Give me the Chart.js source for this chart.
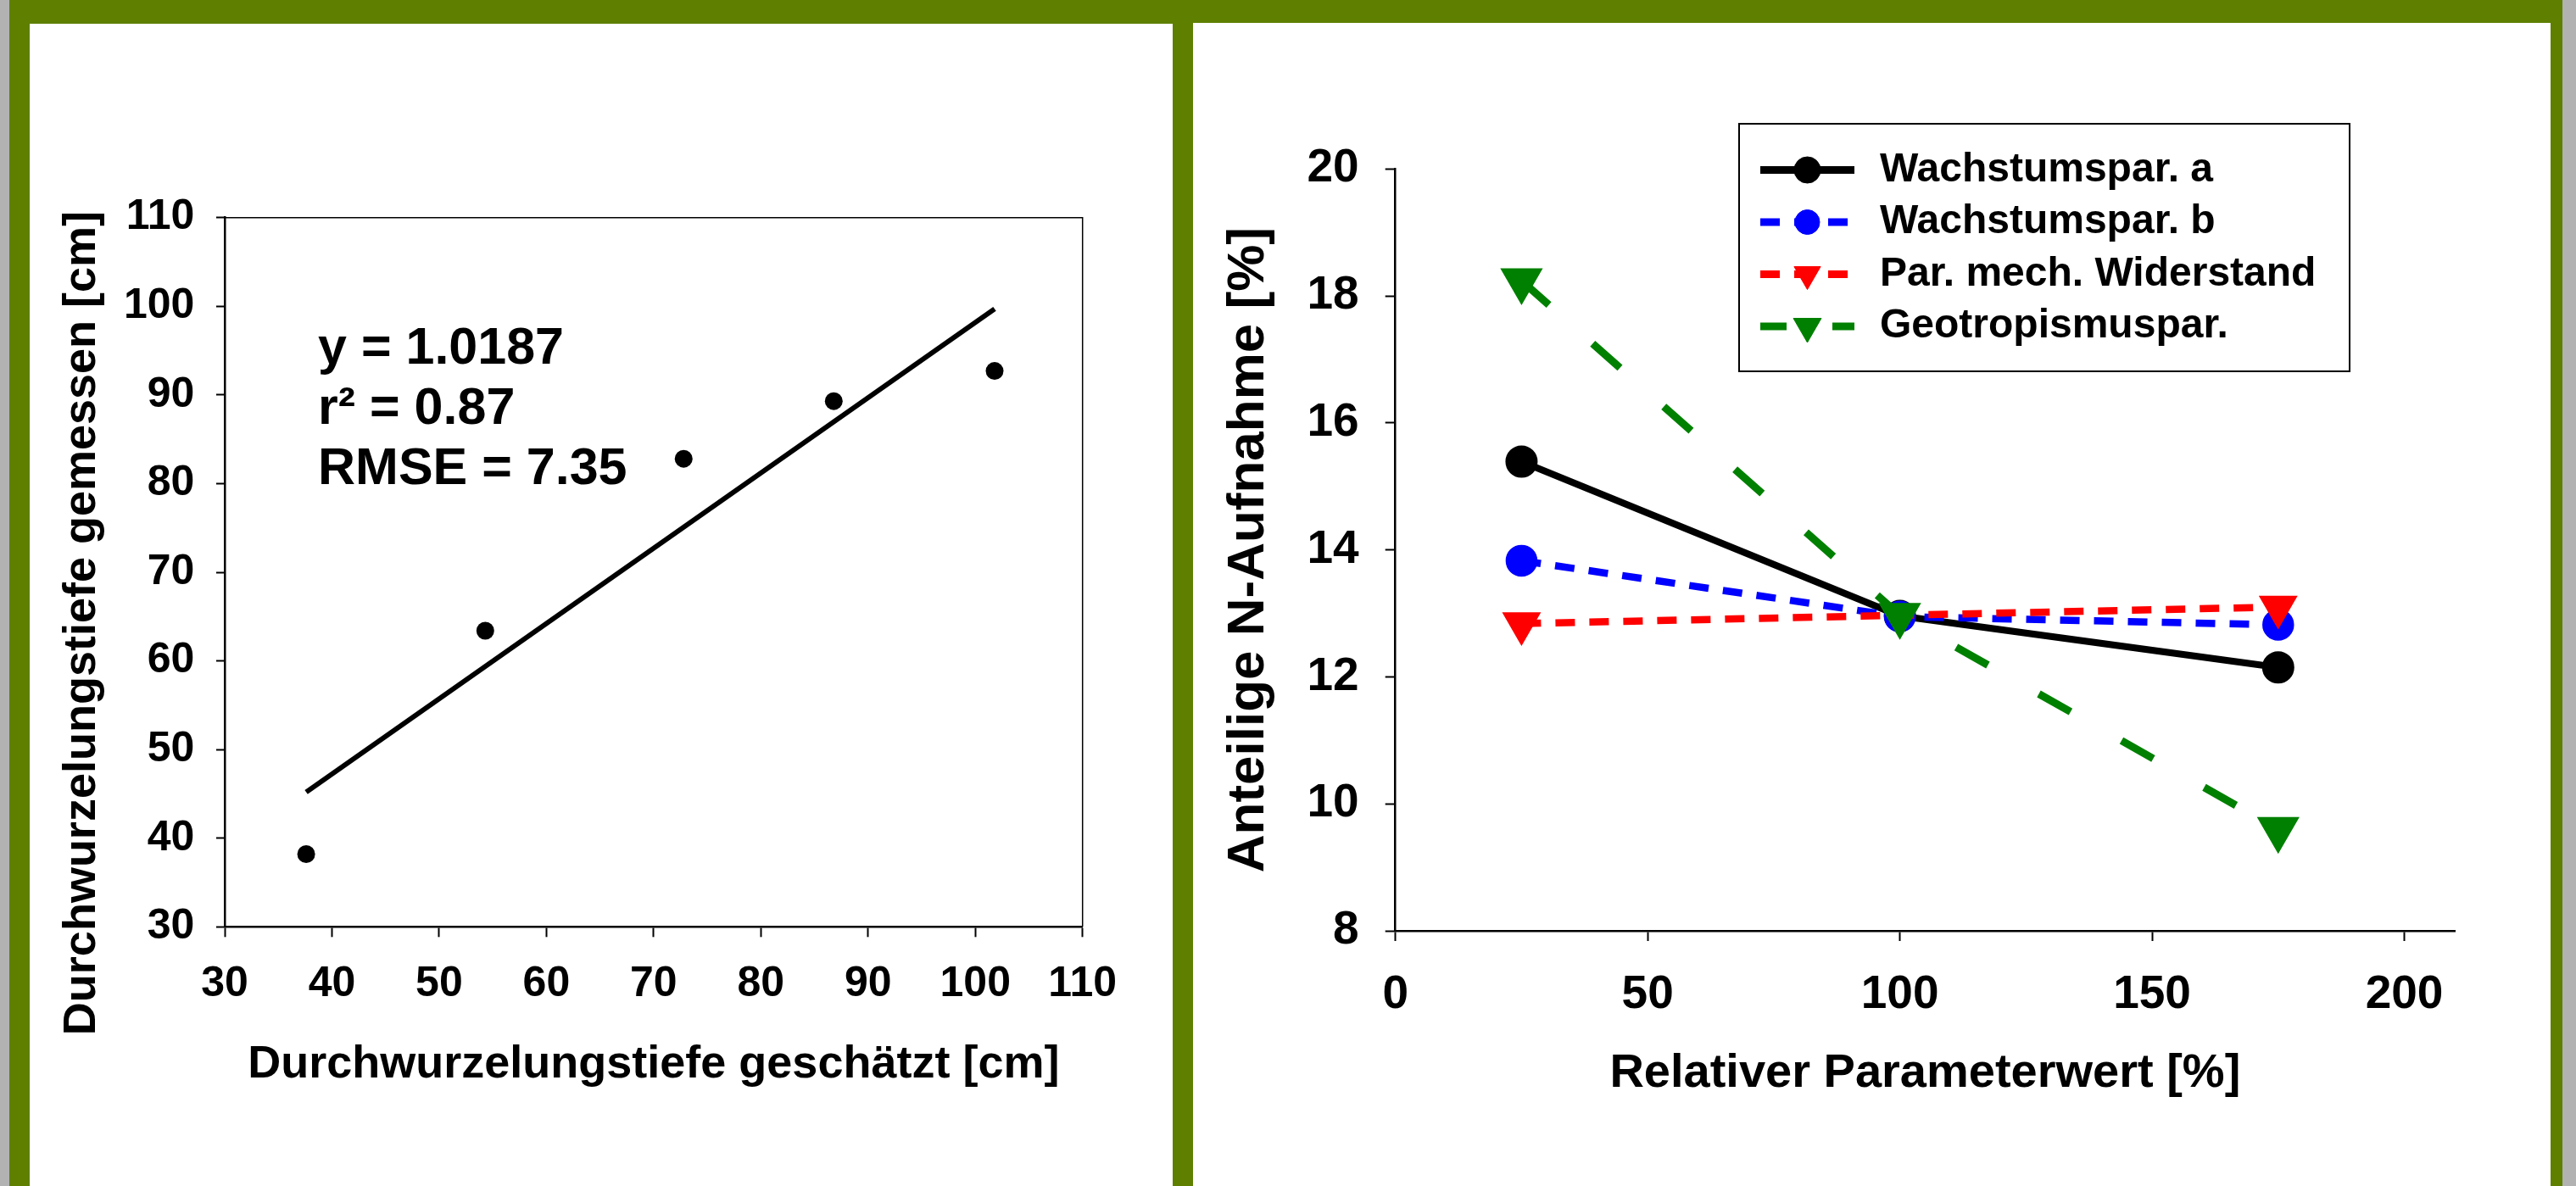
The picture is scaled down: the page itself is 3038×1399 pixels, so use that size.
<!DOCTYPE html>
<html lang="de">
<head>
<meta charset="utf-8">
<title>Durchwurzelungstiefe und N-Aufnahme</title>
<script src="https://cdn.jsdelivr.net/npm/chart.js@4.4.1/dist/chart.umd.min.js"></script>
<style>
  html, body { margin: 0; padding: 0; }
  body { width: 3038px; height: 1399px; background: #5e7f00; position: relative; overflow: hidden; }
  .edge { position: absolute; top: 0; bottom: 0; background: #b2b2b2; }
  .panel { position: absolute; background: #fff; }
  #leftPanel { left: 35px; top: 28px; width: 1348px; height: 1371px; }
  #rightPanel { left: 1407px; top: 27px; width: 1601px; height: 1372px; }
</style>
</head>
<body>
<div class="edge" style="left:0;width:11px"></div>
<div class="edge" style="left:3022px;width:16px"></div>
<div class="panel" id="leftPanel"><canvas id="depthChart"></canvas></div>
<div class="panel" id="rightPanel"><canvas id="shareChart"></canvas></div>
<script>
// --- linkes Diagramm: geschätzte vs. gemessene Durchwurzelungstiefe [cm]
const depthEstimated = [37.6, 54.3, 72.8, 86.8, 101.8];
const depthMeasured = [38.2, 63.4, 82.8, 89.3, 92.7];
const fitX = [37.6, 101.8];           // Regressionsgerade, Anfang und Ende
const fitY = [45.2, 99.7];
const depthTicks = [30, 40, 50, 60, 70, 80, 90, 100, 110];
const statsText = ['y = 1.0187', 'r\u00b2 = 0.87', 'RMSE = 7.35'];
const statsAnchor = [38.7, 93.5];     // x / y der ersten Zeile (Datenwerte)
const statsStep = 6.77;

// --- rechtes Diagramm: Anteilige N-Aufnahme [%] je relativem Parameterwert
const paramValues = [25, 100, 175];
const wachstumA = [15.39, 12.96, 12.15];
const wachstumB = [13.83, 12.95, 12.82];
const mechWiderstand = [12.84, 12.97, 13.10];
const geotropismus = [18.24, 12.97, 9.6];
const seriesNames = ['Wachstumspar. a', 'Wachstumspar. b', 'Par. mech. Widerstand', 'Geotropismuspar.'];
const paramTicks = [0, 50, 100, 150, 200];
const shareTicks = [8, 10, 12, 14, 16, 18, 20];

Chart.defaults.font.family = '"Liberation Sans", Arial, sans-serif';
Chart.defaults.font.weight = 'bold';
Chart.defaults.color = '#000';

// check whether the narrow face is installed (left chart uses it for tick labels)
function fontAvailable(name) {
    const c = document.createElement('canvas').getContext('2d');
    const sample = 'Durchwurzelung 0123456789';
    c.font = 'bold 40px monospace';
    const base = c.measureText(sample).width;
    c.font = 'bold 40px "' + name + '", monospace';
    return c.measureText(sample).width !== base;
}
const narrow = fontAvailable('Liberation Sans Narrow');
const leftTickFont = narrow
    ? { family: '"Liberation Sans Narrow", "Liberation Sans", sans-serif', size: 52, weight: 'bold' }
    : { size: 50, weight: 'bold' };

const points = (xs, ys) => xs.map((x, i) => ({ x: x, y: ys[i] }));
const fixedTicks = list => scale => { scale.ticks = list.map(v => ({ value: v })); };

// thin frame on top and right of the plot area (left chart)
const plotFrame = {
    id: 'plotFrame',
    beforeDatasetsDraw(chart) {
        const { ctx, chartArea: a } = chart;
        ctx.save();
        ctx.strokeStyle = '#000';
        ctx.lineWidth = 1.5;
        ctx.beginPath();
        ctx.moveTo(a.left, a.top);
        ctx.lineTo(a.right, a.top);
        ctx.lineTo(a.right, a.bottom);
        ctx.stroke();
        ctx.restore();
    }
};

// regression statistics written into the plot
const statsLabel = {
    id: 'statsLabel',
    afterDatasetsDraw(chart) {
        const { ctx, scales } = chart;
        ctx.save();
        ctx.font = 'bold 61px "Liberation Sans", Arial, sans-serif';
        ctx.fillStyle = '#000';
        ctx.textBaseline = 'alphabetic';
        statsText.forEach((t, i) => {
            ctx.fillText(t, scales.x.getPixelForValue(statsAnchor[0]),
                scales.y.getPixelForValue(statsAnchor[1] - i * statsStep));
        });
        ctx.restore();
    }
};

// boxed legend with line + marker samples (right chart)
const boxedLegend = {
    id: 'boxedLegend',
    afterDraw(chart, args, opts) {
        const ctx = chart.ctx;
        ctx.save();
        ctx.fillStyle = '#fff';
        ctx.fillRect(opts.x, opts.y, opts.w, opts.h);
        ctx.strokeStyle = '#000';
        ctx.lineWidth = 2;
        ctx.strokeRect(opts.x, opts.y, opts.w, opts.h);
        ctx.font = 'bold 48px "Liberation Sans", Arial, sans-serif';
        ctx.textBaseline = 'middle';
        chart.data.datasets.forEach((ds, i) => {
            const cy = opts.firstRow + i * opts.rowGap;
            ctx.strokeStyle = ds.borderColor;
            ctx.fillStyle = ds.borderColor;
            ctx.lineWidth = 9;
            ctx.setLineDash(ds.legendDash);
            ctx.beginPath();
            ctx.moveTo(opts.lineX, cy);
            ctx.lineTo(opts.lineX + opts.lineLen, cy);
            ctx.stroke();
            ctx.setLineDash([]);
            ctx.lineWidth = 1;
            Chart.helpers.drawPoint(ctx, {
                pointStyle: ds.pointStyle,
                radius: ds.legendRadius,
                rotation: ds.pointRotation || 0,
                borderWidth: 1
            }, opts.lineX + opts.lineLen / 2, cy);
            ctx.fillStyle = '#000';
            ctx.fillText(ds.label, opts.textX, cy);
        });
        ctx.restore();
    }
};

// Chart 1: Durchwurzelungstiefe
new Chart(document.getElementById('depthChart'), {
    type: 'scatter',
    data: {
        datasets: [{
            label: 'Messwerte',
            data: points(depthEstimated, depthMeasured),
            pointRadius: 10.5,
            pointBackgroundColor: '#000',
            pointBorderColor: '#000',
            pointBorderWidth: 0
        }, {
            label: 'Regression',
            data: points(fitX, fitY),
            showLine: true,
            borderColor: '#000',
            borderWidth: 6,
            pointRadius: 0
        }]
    },
    options: {
        responsive: true,
        maintainAspectRatio: false,
        animation: false,
        devicePixelRatio: 1,
        layout: { padding: { left: 0, top: 228.7, right: 106.3, bottom: 0 } },
        plugins: { legend: { display: false }, tooltip: { enabled: false } },
        scales: {
            x: {
                type: 'linear', min: 30, max: 110,
                afterBuildTicks: fixedTicks(depthTicks),
                afterFit: s => { s.height = 305.7; },
                border: { color: '#000', width: 2.5 },
                grid: { drawOnChartArea: false, color: '#000', tickLength: 12, tickWidth: 2 },
                ticks: { font: leftTickFont, padding: 55.9 - leftTickFont.size * 0.6, maxRotation: 0 },
                title: {
                    display: true, text: 'Durchwurzelungstiefe geschätzt [cm]',
                    font: { size: 54, weight: 'bold' }, padding: { top: 0, bottom: 110.7 }
                }
            },
            y: {
                type: 'linear', min: 30, max: 110,
                afterBuildTicks: fixedTicks(depthTicks),
                afterFit: s => { s.width = 230; },
                border: { color: '#000', width: 2.5 },
                grid: { drawOnChartArea: false, color: '#000', tickLength: 10, tickWidth: 2 },
                ticks: { font: leftTickFont, padding: 25.7 },
                title: {
                    // trailing spaces push the centred title down like in the original
                    display: true, text: 'Durchwurzelungstiefe gemessen [cm]' + '\u00a0'.repeat(8),
                    font: { size: 54, weight: 'bold' }, padding: { top: 30.2, bottom: 0 }
                }
            }
        }
    },
    plugins: [plotFrame, statsLabel]
});

// Chart 2: Sensitivität der N-Aufnahme
new Chart(document.getElementById('shareChart'), {
    type: 'scatter',
    data: {
        datasets: [{
            label: seriesNames[0],
            data: points(paramValues, wachstumA),
            showLine: true,
            borderColor: '#000000',
            borderWidth: 8,
            pointStyle: 'circle',
            pointRadius: 15,
            pointBackgroundColor: '#000000',
            pointBorderColor: '#000000',
            legendRadius: 15.5,
            legendDash: [],
            order: 3
        }, {
            label: seriesNames[1],
            data: points(paramValues, wachstumB),
            showLine: true,
            borderColor: '#0000ff',
            borderWidth: 8.5,
            borderDash: [23, 17],
            pointStyle: 'circle',
            pointRadius: 14.5,
            pointBackgroundColor: '#0000ff',
            pointBorderColor: '#0000ff',
            legendRadius: 14.5,
            legendDash: [23, 17],
            order: 2
        }, {
            label: seriesNames[2],
            data: points(paramValues, mechWiderstand),
            showLine: true,
            borderColor: '#ff0000',
            borderWidth: 8.5,
            borderDash: [23, 17],
            pointStyle: 'triangle',
            pointRotation: 180,
            pointRadius: 18,
            pointBackgroundColor: '#ff0000',
            pointBorderColor: '#ff0000',
            legendRadius: 18,
            legendDash: [23, 17],
            order: 1
        }, {
            label: seriesNames[3],
            data: points(paramValues, geotropismus),
            showLine: true,
            borderColor: '#008000',
            borderWidth: 9,
            borderDash: [43, 69],
            pointStyle: 'triangle',
            pointRotation: 180,
            pointRadius: 20,
            pointBackgroundColor: '#008000',
            pointBorderColor: '#008000',
            legendRadius: 19,
            legendDash: [31, 54],
            order: 0
        }]
    },
    options: {
        responsive: true,
        maintainAspectRatio: false,
        animation: false,
        devicePixelRatio: 1,
        layout: { padding: { left: 0, top: 172.3, right: 113, bottom: 0 } },
        plugins: {
            legend: { display: false },
            tooltip: { enabled: false },
            boxedLegend: { x: 644, y: 119, w: 720, h: 292, firstRow: 173.5, rowGap: 61.5, lineX: 669, lineLen: 111, textX: 810 }
        },
        scales: {
            x: {
                type: 'linear', min: 0, max: 210,
                afterBuildTicks: fixedTicks(paramTicks),
                afterFit: s => { s.height = 301; },
                border: { color: '#000', width: 2.5 },
                grid: { drawOnChartArea: false, color: '#000', tickLength: 12, tickWidth: 2 },
                ticks: { font: { size: 55, weight: 'bold' }, padding: 31, maxRotation: 0 },
                title: {
                    display: true, text: 'Relativer Parameterwert [%]',
                    font: { size: 56, weight: 'bold' }, padding: { top: 0, bottom: 98.4 }
                }
            },
            y: {
                type: 'linear', min: 8, max: 20,
                afterBuildTicks: fixedTicks(shareTicks),
                afterFit: s => { s.width = 238.7; },
                border: { color: '#000', width: 2.5 },
                grid: { drawOnChartArea: false, color: '#000', tickLength: 12, tickWidth: 2 },
                ticks: { font: { size: 55, weight: 'bold' }, padding: 31 },
                title: {
                    display: true, text: 'Anteilige N-Aufnahme [%]',
                    font: { size: 62, weight: 'bold' }, padding: { top: 28.8, bottom: 0 }
                }
            }
        }
    },
    plugins: [boxedLegend]
});
</script>
</body>
</html>
